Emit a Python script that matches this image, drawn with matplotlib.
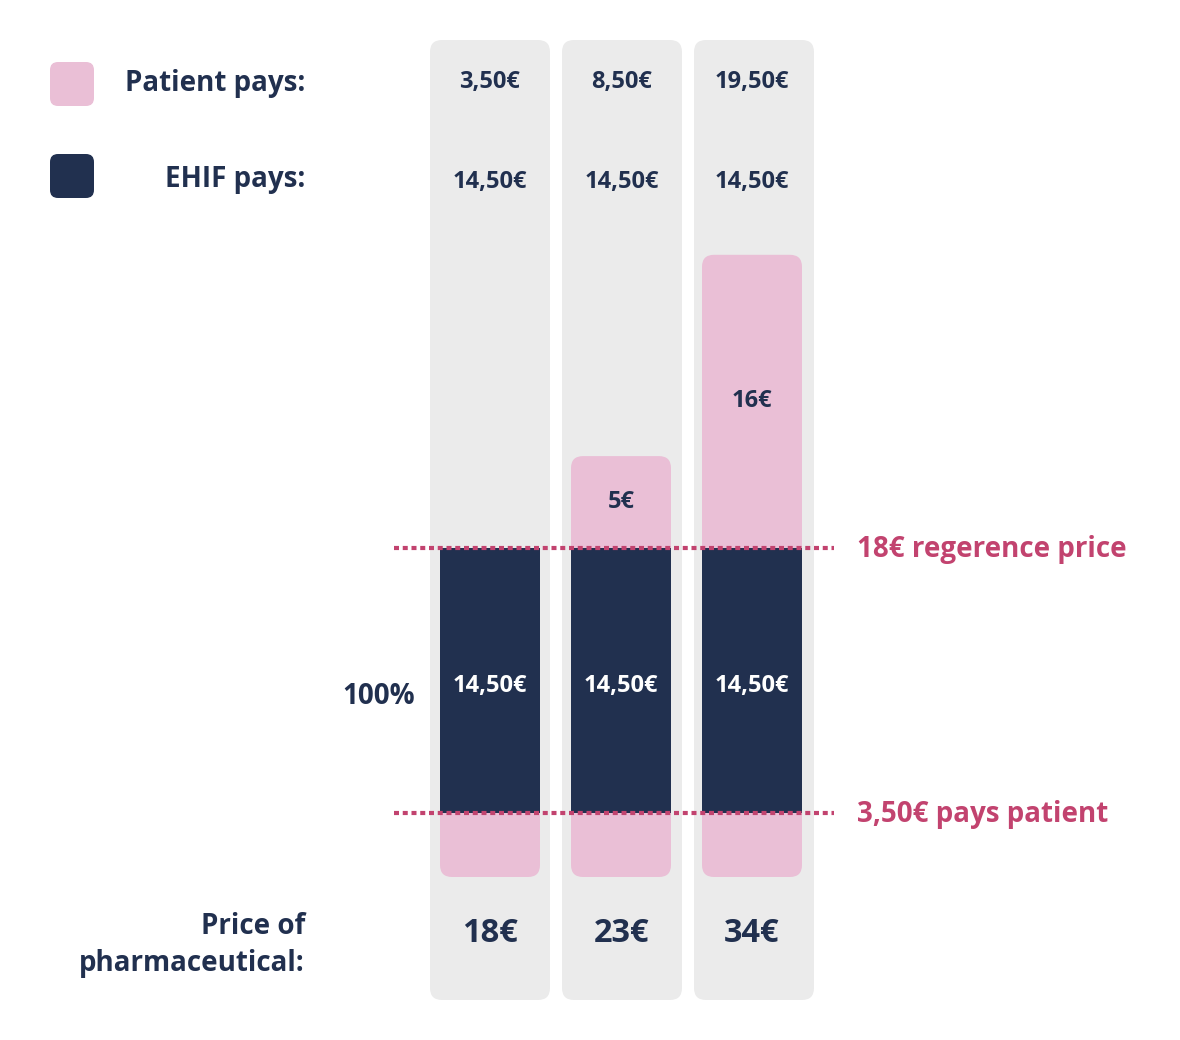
import matplotlib
matplotlib.use("Agg")
import matplotlib.pyplot as plt
from matplotlib.patches import FancyBboxPatch, Rectangle

# ---- data ----
prices = [18, 23, 34]
price_labels = ["18€", "23€", "34€"]
reference_price = 18
patient_base = 3.5
ehif_pays = [14.5, 14.5, 14.5]
patient_pays_labels = ["3,50€", "8,50€", "19,50€"]
ehif_pays_labels = ["14,50€", "14,50€", "14,50€"]
excess_labels = ["", "5€", "16€"]
ref_line_label = "18€ regerence price"
base_line_label = "3,50€ pays patient"

NAVY = "#21304f"
PINK = "#eabfd6"
GREY = "#ebebeb"
RED = "#c2436f"
FONT = ["Open Sans", "DejaVu Sans"]
plt.rcParams["font.family"] = FONT

W, H = 1180, 1040
fig = plt.figure(figsize=(W / 100, H / 100), dpi=100)

# decoration axes in pixel coordinates
dx = fig.add_axes([0, 0, 1, 1], zorder=0)
dx.set_xlim(0, W)
dx.set_ylim(H, 0)
dx.axis("off")

col_centers = [490, 622, 754]
for cx in col_centers:
    dx.add_patch(FancyBboxPatch((cx - 60, 40), 120, 960,
                                boxstyle="round,pad=0,rounding_size=12",
                                fc=GREY, ec="none"))

# legend
dx.add_patch(FancyBboxPatch((50, 62), 44, 44, boxstyle="round,pad=0,rounding_size=8",
                            fc=PINK, ec="none"))
dx.add_patch(FancyBboxPatch((50, 154), 44, 44, boxstyle="round,pad=0,rounding_size=8",
                            fc=NAVY, ec="none"))
dx.text(305, 84, "Patient pays:", ha="right", va="center", fontsize=20,
        fontweight="bold", color=NAVY)
dx.text(305, 179, "EHIF pays:", ha="right", va="center", fontsize=20,
        fontweight="bold", color=NAVY)
dx.text(305, 926, "Price of", ha="right", va="center", fontsize=20,
        fontweight="bold", color=NAVY)
dx.text(305, 964, "pharmaceutical:", ha="right", va="center", fontsize=20,
        fontweight="bold", color=NAVY)
dx.text(379, 696, "100%", ha="center", va="center", fontsize=20,
        fontweight="bold", color=NAVY)

for cx, pl, el, pr in zip([490, 622, 752], patient_pays_labels, ehif_pays_labels, price_labels):
    dx.text(cx, 82, pl, ha="center", va="center", fontsize=17, fontweight="bold", color=NAVY)
    dx.text(cx, 182, el, ha="center", va="center", fontsize=17, fontweight="bold", color=NAVY)
    dx.text(cx, 933, pr, ha="center", va="center", fontsize=23.5, fontweight="bold", color=NAVY)

# bar axes in € units
px_per_cat = 131
px_per_eur = 18.3
y0_px = 877  # pixel row (from top) of 0 €
ymax = 40
left_px = 490 - px_per_cat / 2
bx = fig.add_axes([left_px / W, (H - y0_px) / H, 3 * px_per_cat / W, ymax * px_per_eur / H],
                  zorder=1)
bx.patch.set_alpha(0)
bx.set_xlim(-0.5, 2.5)
bx.set_ylim(0, ymax)
bx.axis("off")

bw = 100 / px_per_cat
aspect = px_per_cat / px_per_eur
r = 12 / px_per_cat

for i, (price, ehif) in enumerate(zip(prices, ehif_pays)):
    x0 = i - bw / 2
    # bottom pink (patient base)
    bx.add_patch(FancyBboxPatch((x0, 0), bw, patient_base,
                                boxstyle=f"round,pad=0,rounding_size={r}",
                                mutation_aspect=aspect, fc=PINK, ec="none"))
    bx.add_patch(Rectangle((x0, patient_base / 2), bw, patient_base / 2, fc=PINK, ec="none"))
    # navy EHIF part
    bx.add_patch(Rectangle((x0, patient_base), bw, ehif, fc=NAVY, ec="none"))
    bx.text(i, patient_base + ehif / 2 - 0.3, ehif_pays_labels[i], ha="center", va="center",
            fontsize=17, fontweight="bold", color="white")
    # excess above reference price
    excess = price - reference_price
    if excess > 0:
        bx.add_patch(FancyBboxPatch((x0, reference_price), bw, excess,
                                    boxstyle=f"round,pad=0,rounding_size={r}",
                                    mutation_aspect=aspect, fc=PINK, ec="none"))
        bx.add_patch(Rectangle((x0, reference_price), bw, excess / 2, fc=PINK, ec="none"))
        bx.text(i, reference_price + excess / 2, excess_labels[i], ha="center", va="center",
                fontsize=17, fontweight="bold", color=NAVY)

# dotted guide lines
x_start = (394 - left_px) / px_per_cat - 0.5
x_end = (834 - left_px) / px_per_cat - 0.5
for yv, lab in [(reference_price, ref_line_label), (patient_base, base_line_label)]:
    bx.plot([x_start, x_end], [yv, yv], color=RED, lw=3, ls=(0, (1.2, 0.9)),
            dash_capstyle="butt", clip_on=False, zorder=5)
    bx.text((857 - left_px) / px_per_cat - 0.5, yv - 0.1, lab, ha="left", va="center",
            fontsize=20, fontweight="bold", color=RED, clip_on=False)

fig.savefig("out.png", dpi=100, facecolor="white")
